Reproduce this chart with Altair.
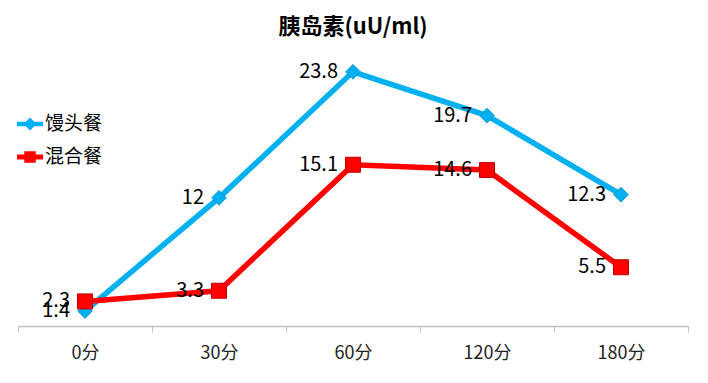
import altair as alt
import pandas as pd

times = ["0分", "30分", "60分", "120分", "180分"]
series = ["馒头餐", "混合餐"]
mantou = [1.4, 12, 23.8, 19.7, 12.3]
hunhe = [2.3, 3.3, 15.1, 14.6, 5.5]
line_colors = ["#00B0F0", "#FF0000"]

rows = []
for t, a, b in zip(times, mantou, hunhe):
    rows.append({"time": t, "series": series[0], "value": a})
    rows.append({"time": t, "series": series[1], "value": b})
df = pd.DataFrame(rows)

FONT = "Noto Sans CJK SC"
# legend glyphs: line segment with the series' marker on it
PATH_A = "M-1,-0.18 L1,-0.18 L1,0.18 L-1,0.18 Z M0,-0.5 L0.5,0 L0,0.5 L-0.5,0 Z"
PATH_B = "M-1,-0.2 L1,-0.2 L1,0.2 L-1,0.2 Z M-0.44,-0.44 L0.44,-0.44 L0.44,0.44 L-0.44,0.44 Z"

x = alt.X(
    "time:N", sort=times,
    scale=alt.Scale(type="band", paddingInner=0, paddingOuter=0),
    axis=alt.Axis(title=None, labelAngle=0, tickBand="extent"),
)
y = alt.Y("value:Q", scale=alt.Scale(domain=[0, 25], nice=False), axis=None)
color_scale = alt.Scale(domain=series, range=line_colors)
color_nolegend = alt.Color("series:N", scale=color_scale, legend=None)

base = alt.Chart(df)

lines = base.mark_line(strokeWidth=5.5).encode(
    x=x, y=y, color=color_nolegend, detail="series:N",
)

diamonds = base.transform_filter(alt.datum.series == series[0]).mark_point(
    shape="diamond", filled=True, size=215, opacity=1, stroke="#0A9AD0", strokeWidth=1
).encode(x=x, y=y, color=color_nolegend)

squares = base.transform_filter(alt.datum.series == series[1]).mark_point(
    shape="square", filled=True, size=225, opacity=1, stroke="#C00000", strokeWidth=1
).encode(x=x, y=y, color=color_nolegend)

legend = alt.Legend(
    title=None, orient="none", legendX=-1, legendY=52,
    symbolSize=676, symbolStrokeWidth=0, symbolOpacity=1,
    labelFontSize=19, labelFont=FONT, labelColor="#000000",
    rowPadding=10, labelOffset=2,
)

# invisible carrier layer for the legend (line + marker glyphs)
legend_layer = base.mark_point(filled=True, opacity=0).encode(
    x=x, y=y,
    color=alt.Color("series:N", scale=color_scale, legend=legend),
    shape=alt.Shape("series:N", scale=alt.Scale(domain=series, range=[PATH_A, PATH_B]), legend=legend),
)

labels = base.mark_text(align="right", baseline="middle", dx=-15, fontSize=20, font=FONT, color="#000000").encode(
    x=x, y=y, text=alt.Text("value:Q"),
)

chart = alt.layer(legend_layer, lines, diamonds, squares, labels).properties(
    width=670, height=267,
    autosize=alt.AutoSizeParams(type="none"),
    padding={"left": 10, "top": 51, "right": 10, "bottom": 40},
    title=alt.Title("胰岛素(uU/ml)", fontSize=22, fontWeight="bold", font=FONT, anchor="middle", offset=20, color="#000000"),
).configure_view(stroke=None).configure_axisX(
    domainColor="#C0C0C0", domainWidth=1.5, tickColor="#C0C0C0", tickSize=6, tickWidth=1,
    labelFontSize=18, labelFont=FONT, labelColor="#222222", labelPadding=12,
)

chart.save("out.html", embed_options={"renderer": "svg", "actions": False})
